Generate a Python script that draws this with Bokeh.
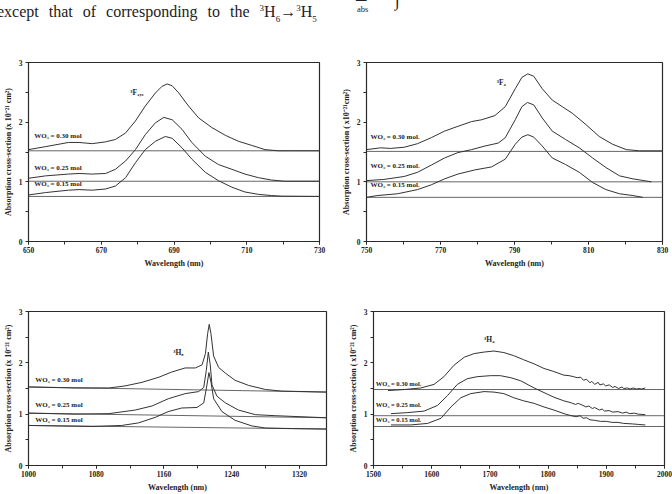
from bokeh.plotting import figure
from bokeh.models import FixedTicker, Div, Label
from bokeh.layouts import column, row
from bokeh.embed import file_html
from bokeh.resources import INLINE

# ---------------- data ----------------
# (a) 3F2,3 band
a_wl_30 = [650, 654.7, 661, 663.9, 667.5, 671.2, 673.9, 676.7, 679.4, 682.1, 684.9, 686.7, 688.1, 689.5, 691.3, 694.0, 696.8, 700.4, 704.1, 707.7, 711.4, 715.0, 718.7, 722, 730]
a_ab_30 = [1.54, 1.59, 1.66, 1.66, 1.64, 1.67, 1.71, 1.82, 2.02, 2.27, 2.49, 2.60, 2.64, 2.61, 2.49, 2.27, 2.07, 1.91, 1.78, 1.68, 1.61, 1.54, 1.52, 1.52, 1.52]
a_wl_25 = [650, 654.7, 661, 663.9, 667.5, 671.2, 673.9, 676.7, 679.4, 682.1, 684.9, 687.2, 689.5, 692.2, 694.9, 698.6, 702.2, 705.9, 709.5, 713.2, 716.8, 720.5, 730]
a_ab_25 = [1.06, 1.10, 1.13, 1.14, 1.13, 1.14, 1.21, 1.35, 1.54, 1.79, 1.99, 2.08, 2.04, 1.88, 1.66, 1.43, 1.29, 1.21, 1.13, 1.07, 1.03, 1.01, 1.01]
a_wl_15 = [650, 654.7, 661, 663.9, 667.5, 671.2, 673.9, 676.7, 679.4, 682.1, 684.9, 687.6, 689.5, 692.2, 694.9, 698.6, 702.2, 705.9, 709.5, 713.2, 716.8, 719.6, 730]
a_ab_15 = [0.78, 0.82, 0.86, 0.87, 0.86, 0.88, 0.93, 1.07, 1.32, 1.54, 1.68, 1.76, 1.73, 1.57, 1.38, 1.16, 1.02, 0.91, 0.83, 0.79, 0.77, 0.76, 0.755]
a_base = [1.52, 1.01, 0.755]

# (b) 3F4 band
b_wl_30 = [750, 753.8, 756.5, 760.2, 763.8, 767.5, 771.1, 774.7, 778.4, 781.1, 784.7, 787.5, 790.2, 792.0, 793.6, 795.2, 797.5, 800.2, 802.9, 805.6, 809.3, 812.9, 816.5, 820.2, 823.8, 830]
b_ab_30 = [1.54, 1.57, 1.56, 1.58, 1.64, 1.74, 1.85, 1.93, 2.01, 2.04, 2.11, 2.26, 2.56, 2.75, 2.81, 2.77, 2.56, 2.37, 2.26, 2.15, 1.96, 1.76, 1.63, 1.54, 1.52, 1.52]
b_wl_25 = [750, 754.7, 760.2, 763.8, 767.5, 771.1, 774.7, 778.4, 782, 785.6, 787.5, 790.2, 792.0, 793.5, 795.2, 797.5, 800.2, 803.8, 807.5, 811.1, 814.7, 818.4, 822, 827]
b_ab_25 = [1.02, 1.04, 1.09, 1.16, 1.28, 1.40, 1.49, 1.54, 1.60, 1.65, 1.74, 2.04, 2.26, 2.33, 2.29, 2.07, 1.85, 1.71, 1.57, 1.40, 1.24, 1.10, 1.05, 1.00]
b_wl_15 = [750, 752.9, 758.4, 763.8, 767.5, 771.1, 774.7, 779.3, 783.8, 787.5, 790.2, 792.0, 793.6, 795.2, 797.5, 800.2, 803.8, 807.5, 811.1, 814.7, 818.4, 822, 824.7]
b_ab_15 = [0.74, 0.77, 0.80, 0.87, 0.95, 1.05, 1.13, 1.20, 1.25, 1.38, 1.63, 1.75, 1.79, 1.75, 1.60, 1.40, 1.29, 1.16, 0.99, 0.87, 0.80, 0.77, 0.74]
b_base = [1.51, 1.00, 0.74]

# (c) 3H5 band
c_wl_30 = [1000, 1055, 1095, 1114, 1134, 1154, 1169, 1185, 1197, 1205, 1209, 1211.6, 1213.5, 1215.5, 1218.7, 1224.6, 1232.5, 1244, 1260, 1280, 1299, 1352]
c_ab_30 = [1.53, 1.51, 1.51, 1.55, 1.62, 1.72, 1.82, 1.90, 1.90, 1.96, 2.18, 2.57, 2.75, 2.57, 2.13, 1.91, 1.80, 1.66, 1.56, 1.48, 1.45, 1.43]
c_wl_25 = [1000, 1055, 1095, 1126, 1146, 1165, 1185, 1201, 1207, 1210, 1212.4, 1214.7, 1216.7, 1222.6, 1232.5, 1248, 1268, 1292, 1352]
c_ab_25 = [1.02, 1.00, 1.01, 1.08, 1.16, 1.30, 1.40, 1.44, 1.52, 1.85, 2.21, 1.96, 1.57, 1.35, 1.22, 1.08, 0.99, 0.97, 0.93]
c_wl_15 = [1000, 1075, 1110, 1130, 1150, 1165, 1181, 1199, 1207, 1210.8, 1213.1, 1215.5, 1218.7, 1228.5, 1244, 1264, 1280, 1311, 1352]
c_ab_15 = [0.78, 0.76, 0.78, 0.83, 0.94, 1.05, 1.12, 1.13, 1.22, 1.57, 1.81, 1.63, 1.30, 1.05, 0.88, 0.77, 0.73, 0.72, 0.71]
c_base_x = [1000, 1352]
c_base_30 = [1.53, 1.43]
c_base_25 = [1.02, 0.93]
c_base_15 = [0.78, 0.71]

# (d) 3H4 band
d_wl_30 = [1525, 1553, 1581, 1604, 1621, 1638, 1656, 1673, 1690, 1707, 1724, 1741, 1758, 1776, 1793, 1810, 1827, 1836, 1844, 1850, 1856, 1861, 1866, 1872, 1875, 1880, 1886, 1889, 1895, 1899, 1905, 1911, 1915, 1921, 1927, 1930, 1936, 1941, 1946, 1952, 1956, 1961, 1967]
d_ab_30 = [1.46, 1.48, 1.51, 1.58, 1.73, 1.95, 2.11, 2.18, 2.21, 2.23, 2.20, 2.14, 2.06, 1.98, 1.89, 1.83, 1.76, 1.75, 1.73, 1.71, 1.72, 1.66, 1.68, 1.61, 1.64, 1.58, 1.62, 1.57, 1.59, 1.55, 1.57, 1.52, 1.54, 1.50, 1.53, 1.50, 1.51, 1.49, 1.51, 1.49, 1.50, 1.49, 1.51]
d_wl_25 = [1530, 1558, 1587, 1610, 1627, 1644, 1661, 1678, 1701, 1718, 1736, 1753, 1776, 1793, 1810, 1827, 1840, 1847, 1852, 1860, 1865, 1870, 1876, 1880, 1888, 1893, 1897, 1905, 1911, 1920, 1928, 1934, 1940, 1948, 1955, 1967]
d_ab_25 = [1.01, 1.03, 1.06, 1.17, 1.36, 1.58, 1.69, 1.73, 1.75, 1.75, 1.71, 1.65, 1.51, 1.42, 1.33, 1.26, 1.22, 1.19, 1.21, 1.17, 1.14, 1.16, 1.11, 1.13, 1.08, 1.10, 1.06, 1.07, 1.04, 1.05, 1.02, 1.04, 1.01, 1.02, 1.00, 0.99]
d_wl_15 = [1530, 1564, 1593, 1616, 1633, 1650, 1667, 1690, 1707, 1724, 1741, 1758, 1776, 1793, 1810, 1830, 1840, 1848, 1855, 1860, 1866, 1872, 1880, 1890, 1900, 1910, 1920, 1930, 1945, 1955, 1967]
d_ab_15 = [0.79, 0.79, 0.82, 0.92, 1.14, 1.32, 1.40, 1.44, 1.43, 1.40, 1.32, 1.26, 1.21, 1.14, 1.08, 1.00, 0.97, 0.95, 0.97, 0.92, 0.93, 0.89, 0.88, 0.86, 0.86, 0.84, 0.84, 0.82, 0.81, 0.80, 0.79]
d_base = [1.48, 0.97, 0.76]

series_labels = ["WO\u2083 = 0.30 mol", "WO\u2083 = 0.25 mol", "WO\u2083 = 0.15 mol"]
series_labels_dot = ["WO\u2083 = 0.30 mol.", "WO\u2083 = 0.25 mol.", "WO\u2083 = 0.15 mol."]
y_ticks = [0, 1, 2, 3]
y_minor = [0.5, 1.5, 2.5]

SERIF = "Liberation Serif"
CURVE = "#333333"
BASE = "#666666"


def make_panel(width, height, borders, xr, xticks, xminor, ylabel, letter, letter_off):
    left, right, top, bottom = borders
    p = figure(width=width, height=height, x_range=xr, y_range=(0, 3),
               output_backend="svg", toolbar_location=None,
               min_border_left=left, min_border_right=right,
               min_border_top=top, min_border_bottom=bottom)
    p.grid.visible = False
    p.outline_line_color = "#2a2a2a"
    p.outline_line_width = 1.2
    p.background_fill_color = "white"
    p.border_fill_color = "white"
    p.xaxis.ticker = FixedTicker(ticks=xticks, minor_ticks=xminor)
    p.yaxis.ticker = FixedTicker(ticks=y_ticks, minor_ticks=y_minor)
    for ax in (p.xaxis[0], p.yaxis[0]):
        ax.axis_line_color = "#2a2a2a"
        ax.major_tick_line_color = "#2a2a2a"
        ax.minor_tick_line_color = "#2a2a2a"
        ax.major_tick_in = 0
        ax.minor_tick_in = 0
        ax.major_tick_out = 3
        ax.minor_tick_out = 3
        ax.major_label_text_font = SERIF
        ax.major_label_text_font_style = "bold"
        ax.major_label_text_font_size = "7.5px"
        ax.major_label_text_color = "#222"
        ax.axis_label_text_font = SERIF
        ax.axis_label_text_font_style = "bold"
        ax.axis_label_text_font_size = "8px"
        ax.axis_label_text_color = "#222"
    p.xaxis.axis_label = "Wavelength (nm)"
    p.xaxis.major_label_standoff = 2
    p.xaxis.axis_label_standoff = 3
    p.yaxis.axis_label = ylabel
    p.yaxis.major_label_standoff = 3
    p.yaxis.axis_label_standoff = 3
    p.add_layout(Label(x=letter_off[0], y=letter_off[1], x_units="screen", y_units="screen",
                       text=letter, text_font=SERIF, text_font_size="11px",
                       text_color="#222", text_align="left", text_baseline="middle"))
    return p


def add_texts(p, xs, ys, texts, size="7px"):
    p.text(x=xs, y=ys, text=texts, text_font={"value": SERIF}, text_font_style="bold",
           text_font_size=size, text_color="#222", text_align="left", text_baseline="middle")


# ---------------- panel (a) ----------------
pa = make_panel(338, 225, (25, 19, 12, 34), (650, 730),
                [650, 670, 690, 710, 730], list(range(650, 731, 10)),
                "Absorption cross-section (x 10\u207b\u00b2\u00b9 cm\u00b2)", "(a)", (-27, -19))
for b in a_base:
    pa.line([650, 730], [b, b], line_color=BASE, line_width=1)
pa.line(a_wl_30, a_ab_30, line_color=CURVE, line_width=1)
pa.line(a_wl_25, a_ab_25, line_color=CURVE, line_width=1)
pa.line(a_wl_15, a_ab_15, line_color=CURVE, line_width=1)
add_texts(pa, [651.6, 651.6, 651.6], [1.76, 1.24, 0.96], series_labels)
add_texts(pa, [678], [2.49], ["\u00b3F\u2082,\u2083"], size="7.5px")

# ---------------- panel (b) ----------------
pb = make_panel(334, 225, (28, 10, 11, 32), (750, 830),
                [750, 770, 790, 810, 830], list(range(750, 831, 10)),
                "Absorption cross-section ( x10\u207b\u00b2\u00b9cm\u00b2)", "(b)", (-22, -17))
for b in b_base:
    pb.line([750, 830], [b, b], line_color=BASE, line_width=1)
pb.line(b_wl_30, b_ab_30, line_color=CURVE, line_width=1)
pb.line(b_wl_25, b_ab_25, line_color=CURVE, line_width=1)
pb.line(b_wl_15, b_ab_15, line_color=CURVE, line_width=1)
add_texts(pb, [751.1, 751.1, 751.1], [1.75, 1.27, 0.94], series_labels_dot)
add_texts(pb, [785.2], [2.66], ["\u00b3F\u2084"], size="7.5px")

# ---------------- panel (c) ----------------
pc = make_panel(345, 219, (24, 19, 14, 24), (1000, 1352),
                [1000, 1080, 1160, 1240, 1320], list(range(1000, 1351, 40)),
                "Absorption cross-section (x 10\u207b\u00b2\u00b9 cm\u00b2)", "(c)", (-27, -21))
pc.line(c_base_x, c_base_30, line_color=BASE, line_width=1)
pc.line(c_base_x, c_base_25, line_color=BASE, line_width=1)
pc.line(c_base_x, c_base_15, line_color=BASE, line_width=1)
pc.line(c_wl_30, c_ab_30, line_color=CURVE, line_width=1)
pc.line(c_wl_25, c_ab_25, line_color=CURVE, line_width=1)
pc.line(c_wl_15, c_ab_15, line_color=CURVE, line_width=1)
add_texts(pc, [1008, 1008, 1008], [1.66, 1.17, 0.88], series_labels)
add_texts(pc, [1171], [2.21], ["\u00b3H\u2085"], size="7.5px")

# ---------------- panel (d) ----------------
pd_ = make_panel(327, 219, (28, 8, 36, 22), (1500, 2000),
                 [1500, 1600, 1700, 1800, 1900, 2000], list(range(1500, 2001, 50)),
                 "Absorption cross-section ( x10\u207b\u00b2\u00b9 cm\u00b2)", "(d)", (-27, -11))
for b in d_base:
    pd_.line([1500, 2000], [b, b], line_color=BASE, line_width=1)
pd_.line(d_wl_30, d_ab_30, line_color=CURVE, line_width=1)
pd_.line(d_wl_25, d_ab_25, line_color=CURVE, line_width=1)
pd_.line(d_wl_15, d_ab_15, line_color=CURVE, line_width=1)
add_texts(pd_, [1504, 1504, 1504], [1.59, 1.18, 0.90], series_labels_dot, size="6.5px")
add_texts(pd_, [1690], [2.46], ["\u00b3H\u2084"], size="7.5px")

# ---------------- header text ----------------
header = Div(width=672, height=50, margin=0, text=(
    "<div style=\"position:relative;width:672px;height:50px;overflow:hidden;"
    "font-family:'Liberation Serif',serif;color:#222;\">"
    "<span style=\"position:absolute;left:-3px;top:0px;font-size:16px;line-height:17px;word-spacing:6px;white-space:nowrap;\">"
    "except that of corresponding to the <sup style='font-size:9px'>3</sup>H<sub style='font-size:9px'>6</sub>"
    "\u2192<sup style='font-size:9px'>3</sup>H<sub style='font-size:9px'>5</sub></span>"
    "<span style=\"position:absolute;left:355px;top:-17px;font-size:22px;line-height:22px;\">\u03a3</span>"
    "<span style=\"position:absolute;left:357px;top:5px;font-size:8.5px;line-height:9px;\">abs</span>"
    "<span style=\"position:absolute;left:395px;top:-8px;font-size:17px;line-height:17px;font-style:italic;\">\u222b</span>"
    "</div>"))

layout = column(header, row(pa, pb), row(pc, pd_))
open("out.html", "w").write(file_html(layout, INLINE))
